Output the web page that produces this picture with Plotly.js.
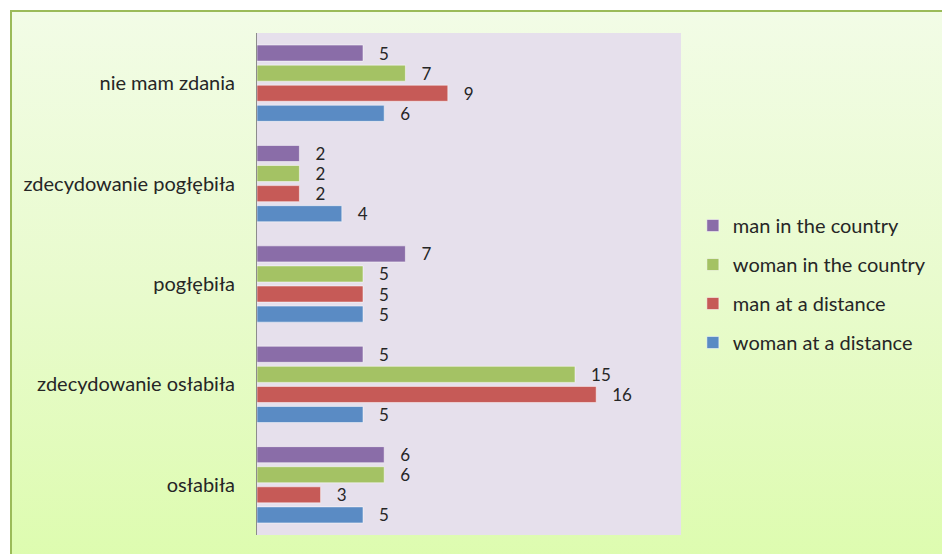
<!DOCTYPE html>
<html>
<head>
<meta charset="utf-8">
<script src="https://cdn.plot.ly/plotly-3.0.1.min.js"></script>
<style>
  html, body { margin: 0; padding: 0; background: #ffffff; overflow: hidden; }
  #frame {
    position: absolute; left: 10px; top: 10px; width: 960px; height: 580px;
    border: 2px solid #9BBB59; box-sizing: border-box;
    background: linear-gradient(180deg, #F2FCE6 0%, #E8FBCC 50%, #DCFCAC 100%);
  }
  #chart { position: absolute; left: 0; top: 0; width: 942px; height: 554px; }
</style>
</head>
<body>
<div id="frame"></div>
<div id="chart"></div>
<script>
const categories = ["nie mam zdania", "zdecydowanie pogłębiła", "pogłębiła", "zdecydowanie osłabiła", "osłabiła"];
const seriesNames = ["man in the country", "woman in the country", "man at a distance", "woman at a distance"];
const manCountry = [5, 2, 7, 5, 6];
const womanCountry = [7, 2, 5, 15, 6];
const manDistance = [9, 2, 5, 16, 3];
const womanDistance = [6, 4, 5, 5, 5];
const colors = ["#8A6DA8", "#A4C264", "#C65A57", "#5A8BC4"];

const FONT = "Lato, 'Open Sans', sans-serif";
const values = [manCountry, womanCountry, manDistance, womanDistance];
const traces = values.map((v, i) => ({
  type: "bar",
  orientation: "h",
  name: seriesNames[i],
  legendgroup: "g" + i,
  y: categories,
  x: v,
  marker: { color: colors[i], line: { color: "rgba(255,255,255,0.5)", width: 1 } },
  text: v.map(String),
  texttemplate: "   %{x}",
  textposition: "outside",
  constraintext: "none",
  cliponaxis: false,
  textfont: { family: FONT, size: 17, color: "#262626" },
  hoverinfo: "none"
}));

const layout = {
  width: 942, height: 554,
  paper_bgcolor: "rgba(0,0,0,0)",
  plot_bgcolor: "#E6E0EC",
  margin: { l: 257, r: 261, t: 33, b: 19, pad: 0, autoexpand: false },
  barmode: "group",
  bargap: 0.2,
  bargroupgap: 0.2,
  font: { family: FONT, size: 20, color: "#262626" },
  xaxis: {
    range: [0, 20], visible: false, showgrid: false, zeroline: false, fixedrange: true
  },
  yaxis: {
    type: "category", autorange: "reversed",
    showline: true, linecolor: "#8C8C8C", linewidth: 1,
    ticks: "", showgrid: false, zeroline: false,
    ticklabelstandoff: 17,
    tickfont: { family: FONT, size: 20, color: "#262626" }
  },
  showlegend: true,
  legend: {
    x: 1.028, xanchor: "left", y: 0.5, yanchor: "middle",
    bgcolor: "rgba(0,0,0,0)",
    traceorder: "grouped",
    tracegroupgap: 10,
    font: { family: FONT, size: 20, color: "#262626" }
  }
};

Plotly.newPlot("chart", traces, layout, { staticPlot: true, displayModeBar: false });
</script>
</body>
</html>
